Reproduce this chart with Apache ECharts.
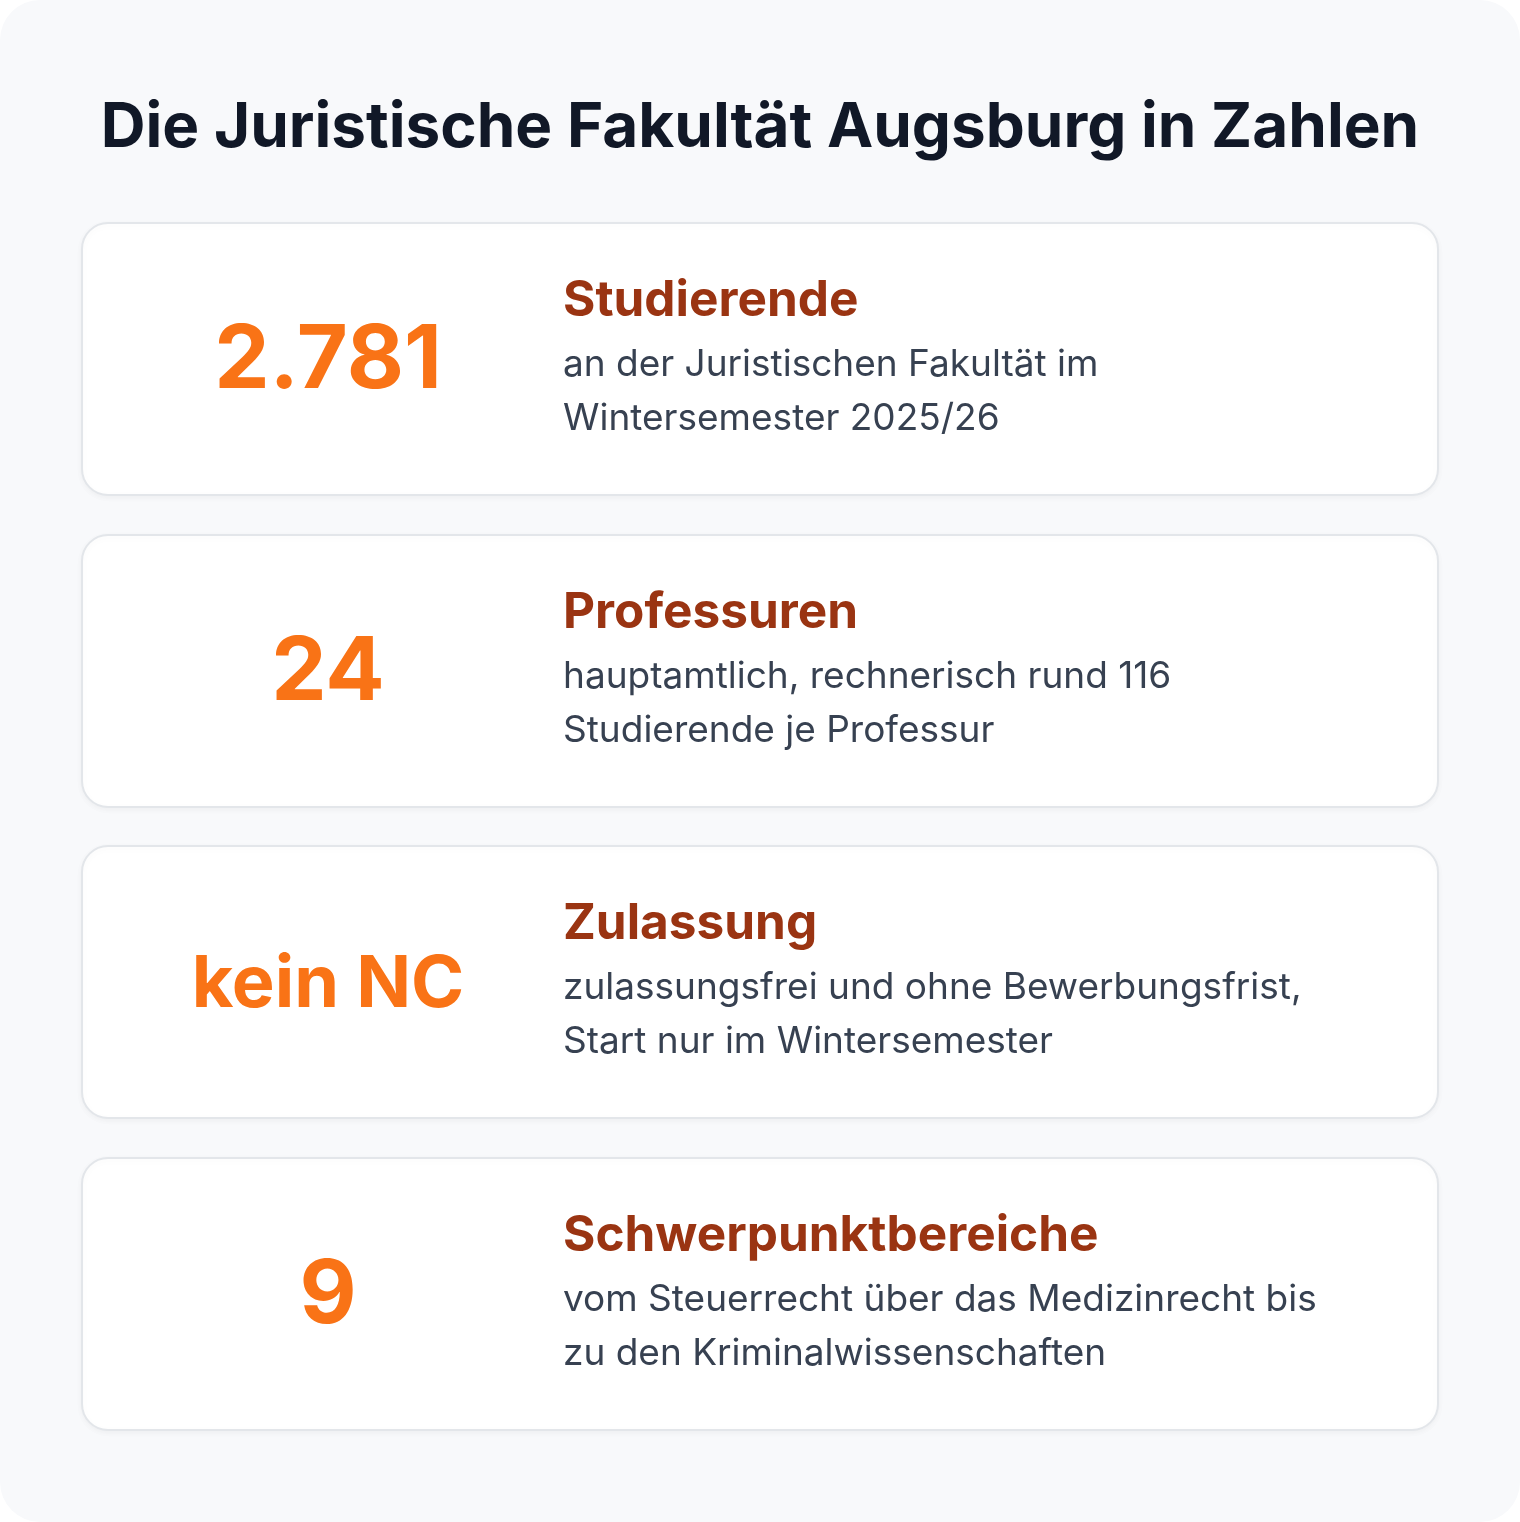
<!DOCTYPE html>
<html><head><meta charset="utf-8">
<script src="https://cdn.jsdelivr.net/npm/echarts@6/dist/echarts.min.js"></script>
<style>html,body{margin:0;padding:0;background:#fff}#c{width:1520px;height:1522px}</style>
</head><body><div id="c"></div>
<script>
const title = 'Die Juristische Fakultät Augsburg in Zahlen';
const values = ['2.781', '24', 'kein NC', '9'];
const labels = ['Studierende', 'Professuren', 'Zulassung', 'Schwerpunktbereiche'];
const descLine1 = ['an der Juristischen Fakultät im', 'hauptamtlich, rechnerisch rund 116', 'zulassungsfrei und ohne Bewerbungsfrist,', 'vom Steuerrecht über das Medizinrecht bis'];
const descLine2 = ['Wintersemester 2025/26', 'Studierende je Professur', 'Start nur im Wintersemester', 'zu den Kriminalwissenschaften'];

const chart = echarts.init(document.getElementById('c'));
const F = 'Inter, "Noto Sans", sans-serif';
const g = [
  {type:'rect', shape:{x:0,y:0,width:1520,height:1522,r:40}, style:{fill:'#f8f9fb'}},
  {type:'text', x:760, y:128, style:{text:title, font:'bold 62px '+F, fill:'#111827', align:'center', verticalAlign:'middle'}}
];
const tops = [223, 535, 846, 1158];
values.forEach((v,i)=>{
  const t = tops[i];
  const fs = v.length > 5 ? 72 : 88;
  g.push({type:'rect', shape:{x:82,y:t,width:1356,height:272,r:26}, style:{fill:'#ffffff', stroke:'#e3e6ea', lineWidth:2, shadowBlur:6, shadowColor:'rgba(0,0,0,0.04)', shadowOffsetY:2}});
  g.push({type:'text', x:328, y:t+139, style:{text:v, font:'bold '+fs+'px '+F, fill:'#f97316', align:'center', verticalAlign:'middle'}});
  g.push({type:'text', x:563, y:t+78, style:{text:labels[i], font:'bold 49.5px '+F, fill:'#9a3412', align:'left', verticalAlign:'middle'}});
  g.push({type:'text', x:563, y:t+142, style:{text:descLine1[i], font:'37px '+F, fill:'#374151', align:'left', verticalAlign:'middle'}});
  g.push({type:'text', x:563, y:t+196, style:{text:descLine2[i], font:'37px '+F, fill:'#374151', align:'left', verticalAlign:'middle'}});
});
chart.setOption({graphic:{elements:g}});
</script></body></html>
